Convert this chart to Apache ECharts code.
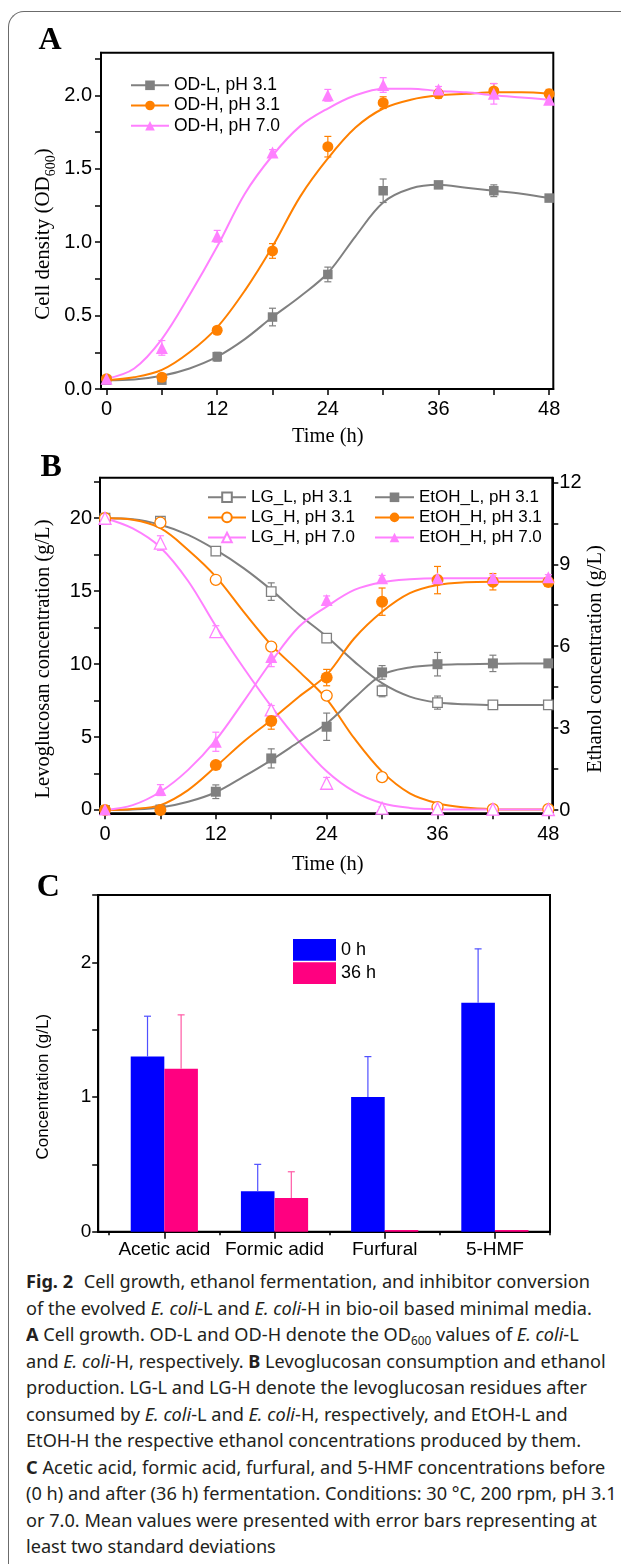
<!DOCTYPE html>
<html>
<head>
<meta charset="utf-8">
<script src="https://cdn.jsdelivr.net/npm/echarts@6/dist/echarts.min.js"></script>
<style>
html,body{margin:0;padding:0;background:#fff;}
#wrap{position:relative;width:621px;height:1564px;overflow:hidden;background:#fff;}
#frame{position:absolute;left:8px;top:11px;width:800px;height:1800px;border-top:1.5px solid #6b6b6b;border-left:1.5px solid #6b6b6b;border-top-left-radius:16px;}
#chart{position:absolute;left:0;top:0;width:621px;height:1268px;}
#caption{position:absolute;left:26px;top:1268px;font-family:"Noto Sans",sans-serif;font-size:18.5px;line-height:26.5px;color:#231f20;white-space:nowrap;transform-origin:0 0;}
#caption div span{display:inline;}
#caption b{font-weight:700;}
#caption sub{font-size:12px;vertical-align:-4px;line-height:0;}
</style>
</head>
<body>
<div id="wrap">
<div id="frame"></div>
<div id="chart"></div>
<div id="caption">
<div><span id="cap1"><b style="margin-right:6px">Fig. 2</b> Cell growth, ethanol fermentation, and inhibitor conversion</span></div>
<div><span>of the evolved <i>E. coli</i>-L and <i>E. coli</i>-H in bio-oil based minimal media.</span></div>
<div><span><b>A</b> Cell growth. OD-L and OD-H denote the OD<sub>600</sub> values of <i>E. coli</i>-L</span></div>
<div><span>and <i>E. coli</i>-H, respectively. <b>B</b> Levoglucosan consumption and ethanol</span></div>
<div><span>production. LG-L and LG-H denote the levoglucosan residues after</span></div>
<div><span>consumed by <i>E. coli</i>-L and <i>E. coli</i>-H, respectively, and EtOH-L and</span></div>
<div><span>EtOH-H the respective ethanol concentrations produced by them.</span></div>
<div><span><b>C</b> Acetic acid, formic acid, furfural, and 5-HMF concentrations before</span></div>
<div><span>(0 h) and after (36 h) fermentation. Conditions: 30 °C, 200 rpm, pH 3.1</span></div>
<div><span>or 7.0. Mean values were presented with error bars representing at</span></div>
<div><span>least two standard deviations</span></div>
</div>
</div>
<script>
// ---------------- data ----------------
const hours = [0, 6, 12, 18, 24, 30, 36, 42, 48];
const fitHours = [0, 3, 6, 9, 12, 15, 18, 21, 24, 27, 30, 33, 36, 39, 42, 45, 48];

// Panel A: cell density (OD600)
const odL      = [0.06, 0.06, 0.22, 0.49, 0.78, 1.35, 1.39, 1.35, 1.30];
const odLErr   = [0.01, 0.01, 0.03, 0.06, 0.05, 0.08, 0.02, 0.04, 0.02];
const odLFit   = [0.06, 0.065, 0.09, 0.14, 0.22, 0.34, 0.49, 0.63, 0.79, 1.04, 1.27, 1.365, 1.39, 1.37, 1.35, 1.33, 1.30];
const odH31    = [0.07, 0.08, 0.40, 0.94, 1.65, 1.95, 2.01, 2.03, 2.01];
const odH31Err = [0.01, 0.02, 0.02, 0.05, 0.07, 0.04, 0.03, 0.05, 0.03];
const odH31Fit = [0.06, 0.08, 0.13, 0.25, 0.42, 0.67, 0.97, 1.31, 1.57, 1.78, 1.91, 1.97, 2.00, 2.01, 2.02, 2.02, 2.01];
const odH70    = [0.07, 0.28, 1.04, 1.61, 2.00, 2.07, 2.04, 2.01, 1.97];
const odH70Err = [0.02, 0.05, 0.04, 0.02, 0.04, 0.05, 0.02, 0.07, 0.03];
const odH70Fit = [0.07, 0.14, 0.34, 0.64, 0.97, 1.33, 1.59, 1.79, 1.91, 2.00, 2.045, 2.045, 2.03, 2.02, 2.00, 1.985, 1.97];

// Panel B: levoglucosan (left axis, g/L) and ethanol (right axis, g/L)
const lgL       = [20.0, 19.8, 17.75, 14.97, 11.78, 8.16, 7.36, 7.2, 7.2];
const lgLErr    = [0.2, 0.25, 0.3, 0.6, 0.3, 0.4, 0.45, 0.2, 0.2];
const lgLFit    = [20.0, 19.93, 19.55, 18.86, 17.83, 16.58, 15.09, 13.4, 11.89, 10.17, 8.69, 7.77, 7.36, 7.25, 7.2, 7.2, 7.2];
const lgH31     = [20.0, 19.7, 15.78, 11.2, 7.84, 2.25, 0.2, 0.05, 0.05];
const lgH31Err  = [0.3, 0.3, 0.2, 0.2, 0.2, 0.3, 0.2, 0.1, 0.1];
const lgH31Fit  = [20.0, 19.9, 19.32, 17.83, 16.0, 13.6, 11.32, 9.5, 7.6, 4.9, 2.63, 1.14, 0.46, 0.16, 0.05, 0.03, 0.03];
const lgH70     = [20.0, 18.3, 12.23, 6.86, 1.83, 0.12, 0.08, 0.05, 0.03];
const lgH70Err  = [0.3, 0.5, 0.4, 0.3, 0.4, 0.1, 0.1, 0.1, 0.1];
const lgH70Fit  = [20.0, 19.3, 18.0, 15.7, 12.6, 9.75, 7.1, 4.7, 2.65, 1.25, 0.46, 0.14, 0.05, 0.03, 0.03, 0.03, 0.03];
const etL       = [0.0, 0.02, 0.67, 1.89, 3.05, 5.04, 5.34, 5.37, 5.37];
const etLErr    = [0.02, 0.02, 0.25, 0.35, 0.5, 0.25, 0.43, 0.3, 0.1];
const etLFit    = [0.0, 0.02, 0.09, 0.3, 0.65, 1.22, 1.83, 2.5, 3.17, 4.1, 4.95, 5.22, 5.31, 5.34, 5.36, 5.37, 5.37];
const etH31     = [0.0, 0.0, 1.65, 3.26, 4.85, 7.63, 8.42, 8.36, 8.35];
const etH31Err  = [0.02, 0.02, 0.1, 0.3, 0.3, 0.5, 0.5, 0.3, 0.15];
const etH31Fit  = [0.0, 0.04, 0.18, 0.73, 1.59, 2.5, 3.3, 4.15, 4.95, 6.29, 7.26, 7.94, 8.24, 8.34, 8.36, 8.36, 8.36];
const etH70     = [0.02, 0.73, 2.5, 5.6, 7.69, 8.49, 8.49, 8.5, 8.52];
const etH70Err  = [0.02, 0.2, 0.35, 0.35, 0.15, 0.1, 0.1, 0.1, 0.1];
const etH70Fit  = [0.0, 0.18, 0.67, 1.47, 2.56, 3.97, 5.43, 6.71, 7.45, 8.06, 8.34, 8.45, 8.49, 8.49, 8.49, 8.49, 8.49];

// Panel C: inhibitor concentrations (g/L)
const inhibitors = ['Acetic acid', 'Formic adid', 'Furfural', '5-HMF'];
const conc0h  = [1.30, 0.30, 1.00, 1.70];
const err0h   = [0.30, 0.20, 0.30, 0.40];
const conc36h = [1.21, 0.25, 0.012, 0.012];
const err36h  = [0.40, 0.195, 0, 0];

// Legends and tick labels
const legendA  = ['OD-L, pH 3.1', 'OD-H, pH 3.1', 'OD-H, pH 7.0'];
const legendB1 = ['LG_L, pH 3.1', 'LG_H, pH 3.1', 'LG_H, pH 7.0'];
const legendB2 = ['EtOH_L, pH 3.1', 'EtOH_H, pH 3.1', 'EtOH_H, pH 7.0'];
const legendC  = ['0 h', '36 h'];
const timeTicks  = [0, 6, 12, 18, 24, 30, 36, 42, 48];
const timeLabels = [0, 12, 24, 36, 48];
const odTicks    = [0, 0.25, 0.5, 0.75, 1, 1.25, 1.5, 1.75, 2, 2.25];
const odLabels   = [0, 0.5, 1, 1.5, 2];
const lgTicks    = [0, 2.5, 5, 7.5, 10, 12.5, 15, 17.5, 20, 22.5];
const lgLabels   = [0, 5, 10, 15, 20];
const etTicks    = [0, 1.5, 3, 4.5, 6, 7.5, 9, 10.5, 12];
const etLabels   = [0, 3, 6, 9, 12];
const concTicks  = [0, 0.5, 1, 1.5, 2, 2.5];
const concLabels = [0, 1, 2];
const catCenters = [0, 1, 2, 3];
const catBounds  = [-0.5, 0.5, 1.5, 2.5, 3.5];

// ---------------- styles ----------------
const SANS = '"Liberation Sans", Arial, sans-serif';
const SERIF = '"Liberation Serif", "Times New Roman", serif';
const GRAY = '#808080', ORANGE = '#ff8000', PINK = '#ff80ff';
const BLUE = '#0000ff', MAGENTA = '#ff0080';
const BAR_W = 33.6;

function errRender(color, cap, upOnly, dx) {
  return function (params, api) {
    const x = api.value(0);
    const lo = api.coord([x, api.value(1)]);
    const hi = api.coord([x, api.value(2)]);
    const off = dx || 0;
    const st = { stroke: color, lineWidth: 1.2 };
    const kids = [
      { type: 'line', shape: { x1: lo[0] + off, y1: lo[1], x2: hi[0] + off, y2: hi[1] }, style: st },
      { type: 'line', shape: { x1: hi[0] + off - cap, y1: hi[1], x2: hi[0] + off + cap, y2: hi[1] }, style: st }
    ];
    if (!upOnly) kids.push({ type: 'line', shape: { x1: lo[0] + off - cap, y1: lo[1], x2: lo[0] + off + cap, y2: lo[1] }, style: st });
    return { type: 'group', children: kids };
  };
}

const emptyName = { rect: 'emptyRect', circle: 'emptyCircle', triangle: 'emptyTriangle' };

function seriesGroup(name, pts, err, fit, color, symbol, size, hollow, xi, yi) {
  return [
    { type: 'line', name, xAxisIndex: xi, yAxisIndex: yi,
      data: fitHours.map((t, i) => [t, fit[i]]), smooth: 0.35, showSymbol: false,
      symbol: hollow ? emptyName[symbol] : symbol, symbolSize: size,
      lineStyle: { color, width: 2 }, itemStyle: { color }, z: 2, silent: true },
    { type: 'custom', name, xAxisIndex: xi, yAxisIndex: yi,
      data: hours.map((t, i) => [t, pts[i] - err[i], pts[i] + err[i]]),
      renderItem: errRender(color, 3.5, false, 0), z: 3, silent: true },
    { type: 'scatter', name, xAxisIndex: xi, yAxisIndex: yi,
      data: hours.map((t, i) => [t, pts[i]]), symbol, symbolSize: size,
      itemStyle: hollow ? { color: '#fff', borderColor: color, borderWidth: 1.3, opacity: 1 } : { color, opacity: 1 },
      z: 4, silent: true }
  ];
}

function xAxisCfg(gridIndex, min, max, ticks, labels, fmt, margin, tickLen, showLine, fontSize) {
  return { type: 'value', gridIndex, min, max, position: 'bottom',
    axisLine: { show: showLine, onZero: false, lineStyle: { color: '#000', width: 2 } },
    axisTick: { show: true, customValues: ticks, length: tickLen, inside: false, lineStyle: { color: '#000', width: 1.5 } },
    axisLabel: { show: labels !== null, customValues: labels || [], formatter: fmt, margin, color: '#000', fontFamily: SANS, fontSize: fontSize || 20 },
    splitLine: { show: false }, minorTick: { show: false } };
}
function yAxisCfg(gridIndex, min, max, ticks, labels, fmt, margin, position, fontSize) {
  return { type: 'value', gridIndex, min, max, position,
    axisLine: { show: true, onZero: false, lineStyle: { color: '#000', width: 2 } },
    axisTick: { show: true, customValues: ticks, length: 6, inside: false, lineStyle: { color: '#000', width: 1.5 } },
    axisLabel: { show: true, customValues: labels, formatter: fmt, margin, color: '#000', fontFamily: SANS, fontSize: fontSize || 20 },
    splitLine: { show: false }, minorTick: { show: false } };
}

const gridBase = { show: true, borderColor: '#000', borderWidth: 2, backgroundColor: 'transparent', containLabel: false, outerBoundsMode: 'none' };

const legendBase = { orient: 'vertical', padding: 0, selectedMode: false,
  textStyle: { color: '#000', fontFamily: SANS } };

const option = {
  animation: false,
  grid: [
    Object.assign({ left: 101, top: 52.7, width: 452.3, height: 336.3 }, gridBase),
    Object.assign({ left: 100, top: 477.7, width: 452.3, height: 335.6 }, gridBase),
    Object.assign({ left: 98.2, top: 895, width: 451.8, height: 336.7 }, gridBase)
  ],
  xAxis: [
    xAxisCfg(0, -0.6, 48.45, timeTicks, timeLabels, v => String(v), 10, 6, true),
    xAxisCfg(1, -0.54, 48.43, timeTicks, timeLabels, v => String(v), 11, 6, true),
    xAxisCfg(2, -0.6, 3.5, catCenters, catCenters, v => inhibitors[Math.round(v)], 9, 7, true, 19),
    xAxisCfg(2, -0.6, 3.5, catBounds, null, v => '', 9, 3.5, false)
  ],
  yAxis: [
    yAxisCfg(0, 0, 2.29, odTicks, odLabels, v => v.toFixed(1), 9, 'left'),
    yAxisCfg(1, -0.23, 22.78, lgTicks, lgLabels, v => String(v), 8, 'left'),
    yAxisCfg(1, -0.12, 12.17, etTicks, etLabels, v => String(v), 7, 'right'),
    yAxisCfg(2, 0, 2.5, concTicks, concLabels, v => String(v), 7, 'left', 19)
  ],
  legend: [
    Object.assign({}, legendBase, { data: legendA, left: 130, top: 76.3, itemWidth: 38, itemHeight: 12, itemGap: 2.2,
      textStyle: { color: '#000', fontFamily: SANS, fontSize: 17.5 } }),
    Object.assign({}, legendBase, { data: legendB1, left: 207, top: 488.8, itemWidth: 38, itemHeight: 12, itemGap: 3.1,
      textStyle: { color: '#000', fontFamily: SANS, fontSize: 17 } }),
    Object.assign({}, legendBase, { data: legendB2, left: 374, top: 488.8, itemWidth: 39, itemHeight: 12, itemGap: 3.1,
      textStyle: { color: '#000', fontFamily: SANS, fontSize: 17 } }),
    Object.assign({}, legendBase, { data: legendC, left: 293, top: 939, itemWidth: 43, itemHeight: 21.7, itemGap: 1.6, icon: 'rect',
      textStyle: { color: '#000', fontFamily: SANS, fontSize: 18 } })
  ],
  graphic: { elements: [
    { type: 'text', x: 38.4, y: 41, silent: true, style: { text: 'A', font: 'bold 32px ' + SERIF, fill: '#000', align: 'left', verticalAlign: 'middle' } },
    { type: 'text', x: 40.5, y: 467.5, silent: true, style: { text: 'B', font: 'bold 32px ' + SERIF, fill: '#000', align: 'left', verticalAlign: 'middle' } },
    { type: 'text', x: 36.8, y: 887.5, silent: true, style: { text: 'C', font: 'bold 32px ' + SERIF, fill: '#000', align: 'left', verticalAlign: 'middle' } },
    { type: 'text', x: 43, y: 234, rotation: Math.PI / 2, silent: true,
      style: { text: 'Cell density (OD{sub|600})', fontSize: 21, fontFamily: SERIF, fill: '#000', align: 'center', verticalAlign: 'middle',
        rich: { sub: { fontSize: 14, fontFamily: SERIF, fill: '#000', padding: [16, 0, 0, 0], verticalAlign: 'bottom' } } } },
    { type: 'text', x: 327.8, y: 436.4, silent: true, style: { text: 'Time (h)', fontSize: 20.5, fontFamily: SERIF, fill: '#000', align: 'center', verticalAlign: 'middle' } },
    { type: 'text', x: 44, y: 659, rotation: Math.PI / 2, silent: true, style: { text: 'Levoglucosan concentration (g/L)', fontSize: 20.5, fontFamily: SERIF, fill: '#000', align: 'center', verticalAlign: 'middle' } },
    { type: 'text', x: 596, y: 659, rotation: Math.PI / 2, silent: true, style: { text: 'Ethanol concentration (g/L)', fontSize: 20.5, fontFamily: SERIF, fill: '#000', align: 'center', verticalAlign: 'middle' } },
    { type: 'text', x: 327.8, y: 865, silent: true, style: { text: 'Time (h)', fontSize: 20.5, fontFamily: SERIF, fill: '#000', align: 'center', verticalAlign: 'middle' } },
    { type: 'text', x: 43, y: 1086.7, rotation: Math.PI / 2, silent: true, style: { text: 'Concentration (g/L)', fontSize: 17, fontFamily: SANS, fill: '#000', align: 'center', verticalAlign: 'middle' } }
  ] },
  series: [].concat(
    seriesGroup(legendA[0], odL, odLErr, odLFit, GRAY, 'rect', 9.5, false, 0, 0),
    seriesGroup(legendA[1], odH31, odH31Err, odH31Fit, ORANGE, 'circle', 11, false, 0, 0),
    seriesGroup(legendA[2], odH70, odH70Err, odH70Fit, PINK, 'triangle', 12, false, 0, 0),
    seriesGroup(legendB1[0], lgL, lgLErr, lgLFit, GRAY, 'rect', 9.5, true, 1, 1),
    seriesGroup(legendB1[1], lgH31, lgH31Err, lgH31Fit, ORANGE, 'circle', 11, true, 1, 1),
    seriesGroup(legendB1[2], lgH70, lgH70Err, lgH70Fit, PINK, 'triangle', 12, true, 1, 1),
    seriesGroup(legendB2[0], etL, etLErr, etLFit, GRAY, 'rect', 10, false, 1, 2),
    seriesGroup(legendB2[1], etH31, etH31Err, etH31Fit, ORANGE, 'circle', 12, false, 1, 2),
    seriesGroup(legendB2[2], etH70, etH70Err, etH70Fit, PINK, 'triangle', 12, false, 1, 2),
    [
      { type: 'bar', name: legendC[0], xAxisIndex: 2, yAxisIndex: 3, data: inhibitors.map((c, i) => [i, conc0h[i]]),
        barWidth: BAR_W, barGap: '0%', itemStyle: { color: BLUE }, z: 2, silent: true },
      { type: 'bar', name: legendC[1], xAxisIndex: 2, yAxisIndex: 3, data: inhibitors.map((c, i) => [i, conc36h[i]]),
        barWidth: BAR_W, barGap: '0%', itemStyle: { color: MAGENTA }, z: 2, silent: true },
      { type: 'custom', name: legendC[0], xAxisIndex: 2, yAxisIndex: 3,
        data: inhibitors.map((c, i) => [i, conc0h[i], conc0h[i] + err0h[i]]).filter((d, i) => err0h[i] > 0),
        renderItem: errRender('#5050ff', 3.5, true, -BAR_W / 2), z: 3, silent: true },
      { type: 'custom', name: legendC[1], xAxisIndex: 2, yAxisIndex: 3,
        data: inhibitors.map((c, i) => [i, conc36h[i], conc36h[i] + err36h[i]]).filter((d, i) => err36h[i] > 0),
        renderItem: errRender('#ff5aa5', 3.5, true, BAR_W / 2), z: 3, silent: true }
    ]
  )
};

const chart = echarts.init(document.getElementById('chart'), null, { renderer: 'canvas' });
chart.setOption(option);

// fit caption width to the reference's line length
(function () {
  const cap = document.getElementById('caption');
  const w = document.getElementById('cap1').getBoundingClientRect().width;
  if (w > 0) cap.style.transform = 'scaleX(' + (564 / w) + ')';
})();
</script>
</body>
</html>
